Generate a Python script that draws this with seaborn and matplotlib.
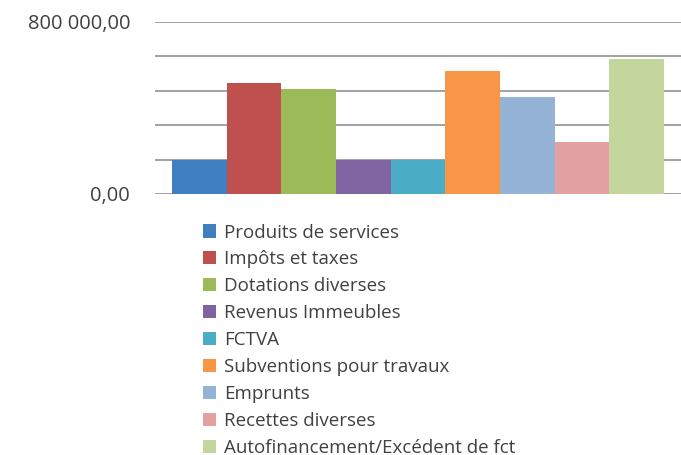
import pandas as pd
import matplotlib
matplotlib.use("Agg")
import matplotlib.pyplot as plt
import seaborn as sns

# --- Data ---
series = [
    "Produits de services",
    "Impôts et taxes",
    "Dotations diverses",
    "Revenus Immeubles",
    "FCTVA",
    "Subventions pour travaux",
    "Emprunts",
    "Recettes diverses",
    "Autofinancement/Excédent de fct",
]
values = [160000, 517000, 489000, 160000, 160000, 571000, 450000, 244000, 629000]
colors = ["#3F7FC0", "#C0504D", "#9BBB59", "#8064A2", "#4BACC6",
          "#F79646", "#95B3D7", "#E3A0A0", "#C3D69B"]

y_ticks = [0, 160000, 320000, 480000, 640000, 800000]
y_labels = ["0,00", "", "", "", "", "800 000,00"]

df = pd.DataFrame({"cat": [""] * len(series), "serie": series, "valeur": values})

sns.set_style("white")
plt.rcParams["font.family"] = ["Open Sans", "DejaVu Sans"]

fig = plt.figure(figsize=(6.81, 4.55), dpi=100)
ax = fig.add_axes([155 / 681, 1 - 194 / 455, 1 - 155 / 681, 172 / 455])

sns.barplot(data=df, x="cat", y="valeur", hue="serie", hue_order=series,
            palette=colors, width=0.935, saturation=1, gap=0, ax=ax,
            linewidth=0, legend=True)

ax.set_ylim(0, 800000)
ax.set_xlim(-0.5, 0.5)
ax.set_yticks(y_ticks)
ax.set_yticklabels(y_labels, fontsize=14.5, color="#404040")
ax.tick_params(axis="y", length=0, pad=18)
ax.set_xticks([])
ax.set_xlabel("")
ax.set_ylabel("")
ax.grid(True, axis="y", color="#9a9a9a", linewidth=1.3)
ax.set_axisbelow(True)
for s in ax.spines.values():
    s.set_visible(False)

# legend below the plot, anchored in figure fraction (y from bottom)
leg = ax.legend(loc="upper left", bbox_to_anchor=(203 / 681, 1 - 223.5 / 455),
                bbox_transform=fig.transFigure, frameon=False,
                fontsize=13.5, handlelength=0.7, handleheight=0.7,
                handletextpad=0.4, labelspacing=0.475, borderaxespad=0,
                borderpad=0)
for t in leg.get_texts():
    t.set_color("#404040")

fig.savefig("out.png", dpi=100)
